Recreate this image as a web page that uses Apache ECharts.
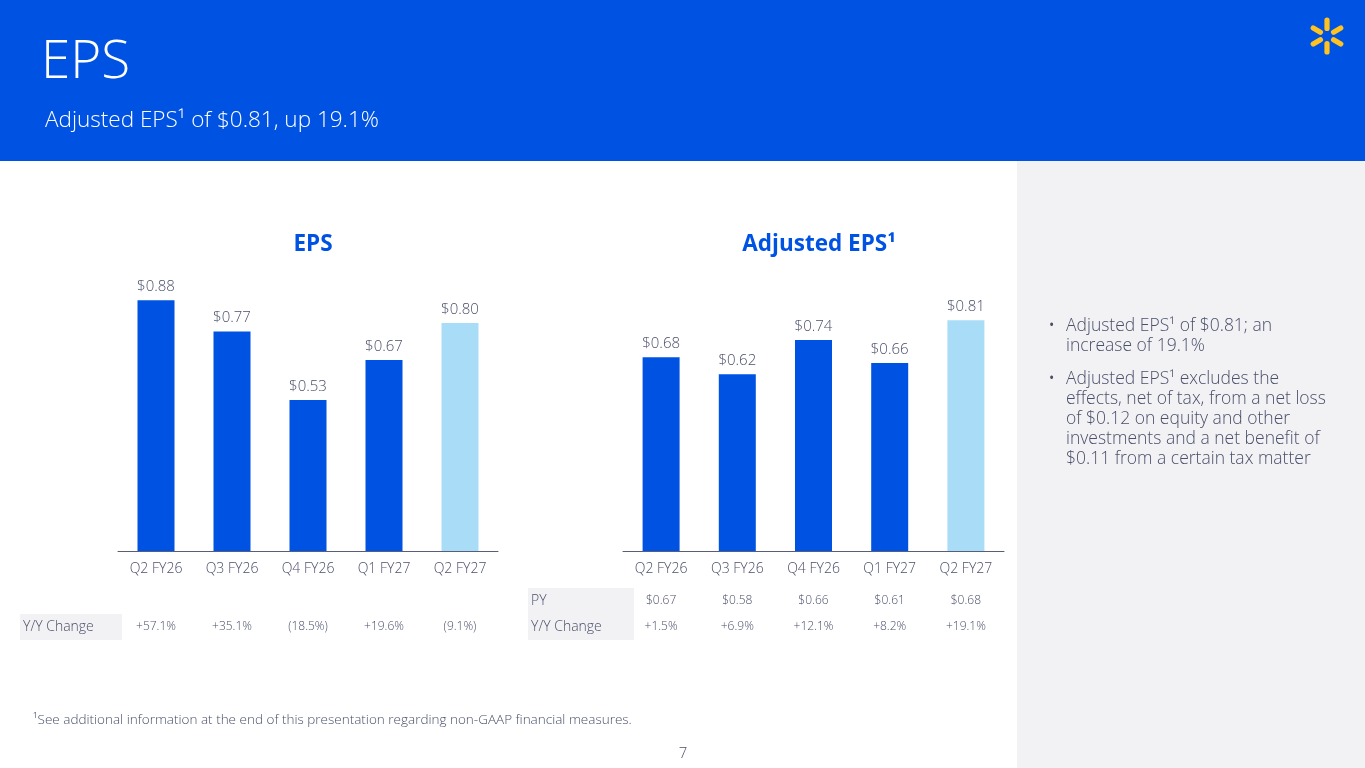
<!DOCTYPE html>
<html>
<head>
<meta charset="utf-8">
<script src="https://cdn.jsdelivr.net/npm/echarts@6/dist/echarts.min.js"></script>
<style>
html,body{margin:0;padding:0;background:#fff;}
#main{width:1365px;height:768px;}
</style>
</head>
<body>
<div id="main"></div>
<script>
// ---- data ----
const categories = ['Q2 FY26','Q3 FY26','Q4 FY26','Q1 FY27','Q2 FY27'];
const epsValues = [0.88, 0.77, 0.53, 0.67, 0.80];
const adjEpsValues = [0.68, 0.62, 0.74, 0.66, 0.81];
const epsYoY = ['+57.1%','+35.1%','(18.5%)','+19.6%','(9.1%)'];
const adjPY = ['$0.67','$0.58','$0.66','$0.61','$0.68'];
const adjYoY = ['+1.5%','+6.9%','+12.1%','+8.2%','+19.1%'];
const bullets = [
  ['Adjusted EPS\u00B9 of $0.81; an', 'increase of 19.1%'],
  ['Adjusted EPS\u00B9 excludes the', 'effects, net of tax, from a net loss', 'of $0.12 on equity and other', 'investments and a net benefit of', '$0.11 from a certain tax matter']
];

const BLUE = '#0053E2';
const LIGHT = '#A9DDF7';
const TXT = '#4A4F6A';
const FONT = '"Open Sans", "Liberation Sans", sans-serif';

const chart = echarts.init(document.getElementById('main'));

function barData(vals) {
  return vals.map((v, i) => ({
    value: v,
    itemStyle: { color: i === vals.length - 1 ? LIGHT : BLUE }
  }));
}

const baseGraphic = [
  { type: 'rect', shape: { x: 0, y: 0, width: 1365, height: 161 }, style: { fill: BLUE }, silent: true },
  { type: 'rect', shape: { x: 1017, y: 161, width: 348, height: 607 }, style: { fill: '#F2F2F5' }, silent: true },
  { type: 'text', x: 41, y: 63, style: { text: 'EPS', fill: '#fff', font: '300 53px ' + FONT, verticalAlign: 'middle' } },
  { type: 'text', x: 45, y: 121, style: { text: 'Adjusted EPS\u00B9 of $0.81, up 19.1%', fill: '#fff', font: '300 22.5px ' + FONT, verticalAlign: 'middle' } },
  { type: 'text', x: 33, y: 720, style: { text: '\u00B9See additional information at the end of this presentation regarding non-GAAP financial measures.', fill: TXT, font: '300 13.5px ' + FONT, verticalAlign: 'middle' } },
  { type: 'text', x: 683, y: 754, style: { text: '7', fill: TXT, font: '300 15px ' + FONT, align: 'center', verticalAlign: 'middle' } },
  // table label cells
  { type: 'rect', shape: { x: 20, y: 614, width: 102, height: 26 }, style: { fill: '#F2F2F5' }, silent: true },
  { type: 'text', x: 23, y: 627, style: { text: 'Y/Y Change', fill: TXT, font: '300 14px ' + FONT, verticalAlign: 'middle' } },
  { type: 'rect', shape: { x: 528, y: 588, width: 106, height: 52 }, style: { fill: '#F2F2F5' }, silent: true },
  { type: 'text', x: 531, y: 601, style: { text: 'PY', fill: TXT, font: '300 14px ' + FONT, verticalAlign: 'middle' } },
  { type: 'text', x: 531, y: 627, style: { text: 'Y/Y Change', fill: TXT, font: '300 14px ' + FONT, verticalAlign: 'middle' } }
];

// Walmart spark
const sparkCx = 1327, sparkCy = 36;
for (let k = 0; k < 6; k++) {
  const ang = k * Math.PI / 3;
  baseGraphic.push({
    type: 'rect',
    shape: { x: -2.6, y: -18.5, width: 5.2, height: 13.5, r: 2.6 },
    x: sparkCx, y: sparkCy, rotation: -ang,
    style: { fill: '#FFC220' }, silent: true
  });
}

// bullets
let by = 326;
bullets.forEach((lines) => {
  baseGraphic.push({ type: 'text', x: 1049, y: by, style: { text: '\u2022', fill: TXT, font: '14px ' + FONT, verticalAlign: 'middle' } });
  lines.forEach((ln) => {
    baseGraphic.push({ type: 'text', x: 1066, y: by, style: { text: ln, fill: TXT, font: '300 17.5px ' + FONT, verticalAlign: 'middle' } });
    by += 20;
  });
  by += 13;
});

const labelStyle = {
  show: true, position: 'top', distance: 6,
  formatter: (p) => '$' + p.value.toFixed(2),
  color: TXT, fontFamily: FONT, fontSize: 15, fontWeight: 300
};
const axisCommon = {
  type: 'category',
  data: categories,
  axisLine: { lineStyle: { color: '#5A5E75', width: 1 } },
  axisTick: { show: false },
  axisLabel: { color: TXT, fontFamily: FONT, fontSize: 14, fontWeight: 300, margin: 11 }
};
const yCommon = { type: 'value', min: 0, max: 1, show: false, splitLine: { show: false } };

chart.setOption({
  animation: false,
  textStyle: { fontFamily: FONT },
  title: [
    { text: 'EPS', left: 308, top: 228, textAlign: 'center', textStyle: { color: BLUE, fontSize: 22.5, fontWeight: 'bold', fontFamily: FONT } },
    { text: 'Adjusted EPS\u00B9', left: 814, top: 228, textAlign: 'center', textStyle: { color: BLUE, fontSize: 22.5, fontWeight: 'bold', fontFamily: FONT } }
  ],
  grid: [
    { left: 118, width: 380, top: 266, bottom: 217 },
    { left: 623, width: 381, top: 266, bottom: 217 }
  ],
  xAxis: [
    Object.assign({ gridIndex: 0 }, axisCommon),
    Object.assign({ gridIndex: 1 }, axisCommon)
  ],
  yAxis: [
    Object.assign({ gridIndex: 0 }, yCommon),
    Object.assign({ gridIndex: 1 }, yCommon)
  ],
  series: [
    { type: 'bar', xAxisIndex: 0, yAxisIndex: 0, data: barData(epsValues), barWidth: 37, label: labelStyle },
    { type: 'bar', xAxisIndex: 1, yAxisIndex: 1, data: barData(adjEpsValues), barWidth: 37, label: labelStyle }
  ],
  graphic: baseGraphic
});

// table values aligned to category centres via the axes
const tableGraphic = [];
const valFont = '300 12px ' + FONT;
categories.forEach((c, i) => {
  const xl = chart.convertToPixel({ xAxisIndex: 0 }, c);
  const xr = chart.convertToPixel({ xAxisIndex: 1 }, c);
  tableGraphic.push({ type: 'text', x: xl, y: 627, style: { text: epsYoY[i], fill: TXT, font: valFont, align: 'center', verticalAlign: 'middle' } });
  tableGraphic.push({ type: 'text', x: xr, y: 601, style: { text: adjPY[i], fill: TXT, font: valFont, align: 'center', verticalAlign: 'middle' } });
  tableGraphic.push({ type: 'text', x: xr, y: 627, style: { text: adjYoY[i], fill: TXT, font: valFont, align: 'center', verticalAlign: 'middle' } });
});
chart.setOption({ graphic: baseGraphic.concat(tableGraphic) });
</script>
</body>
</html>
